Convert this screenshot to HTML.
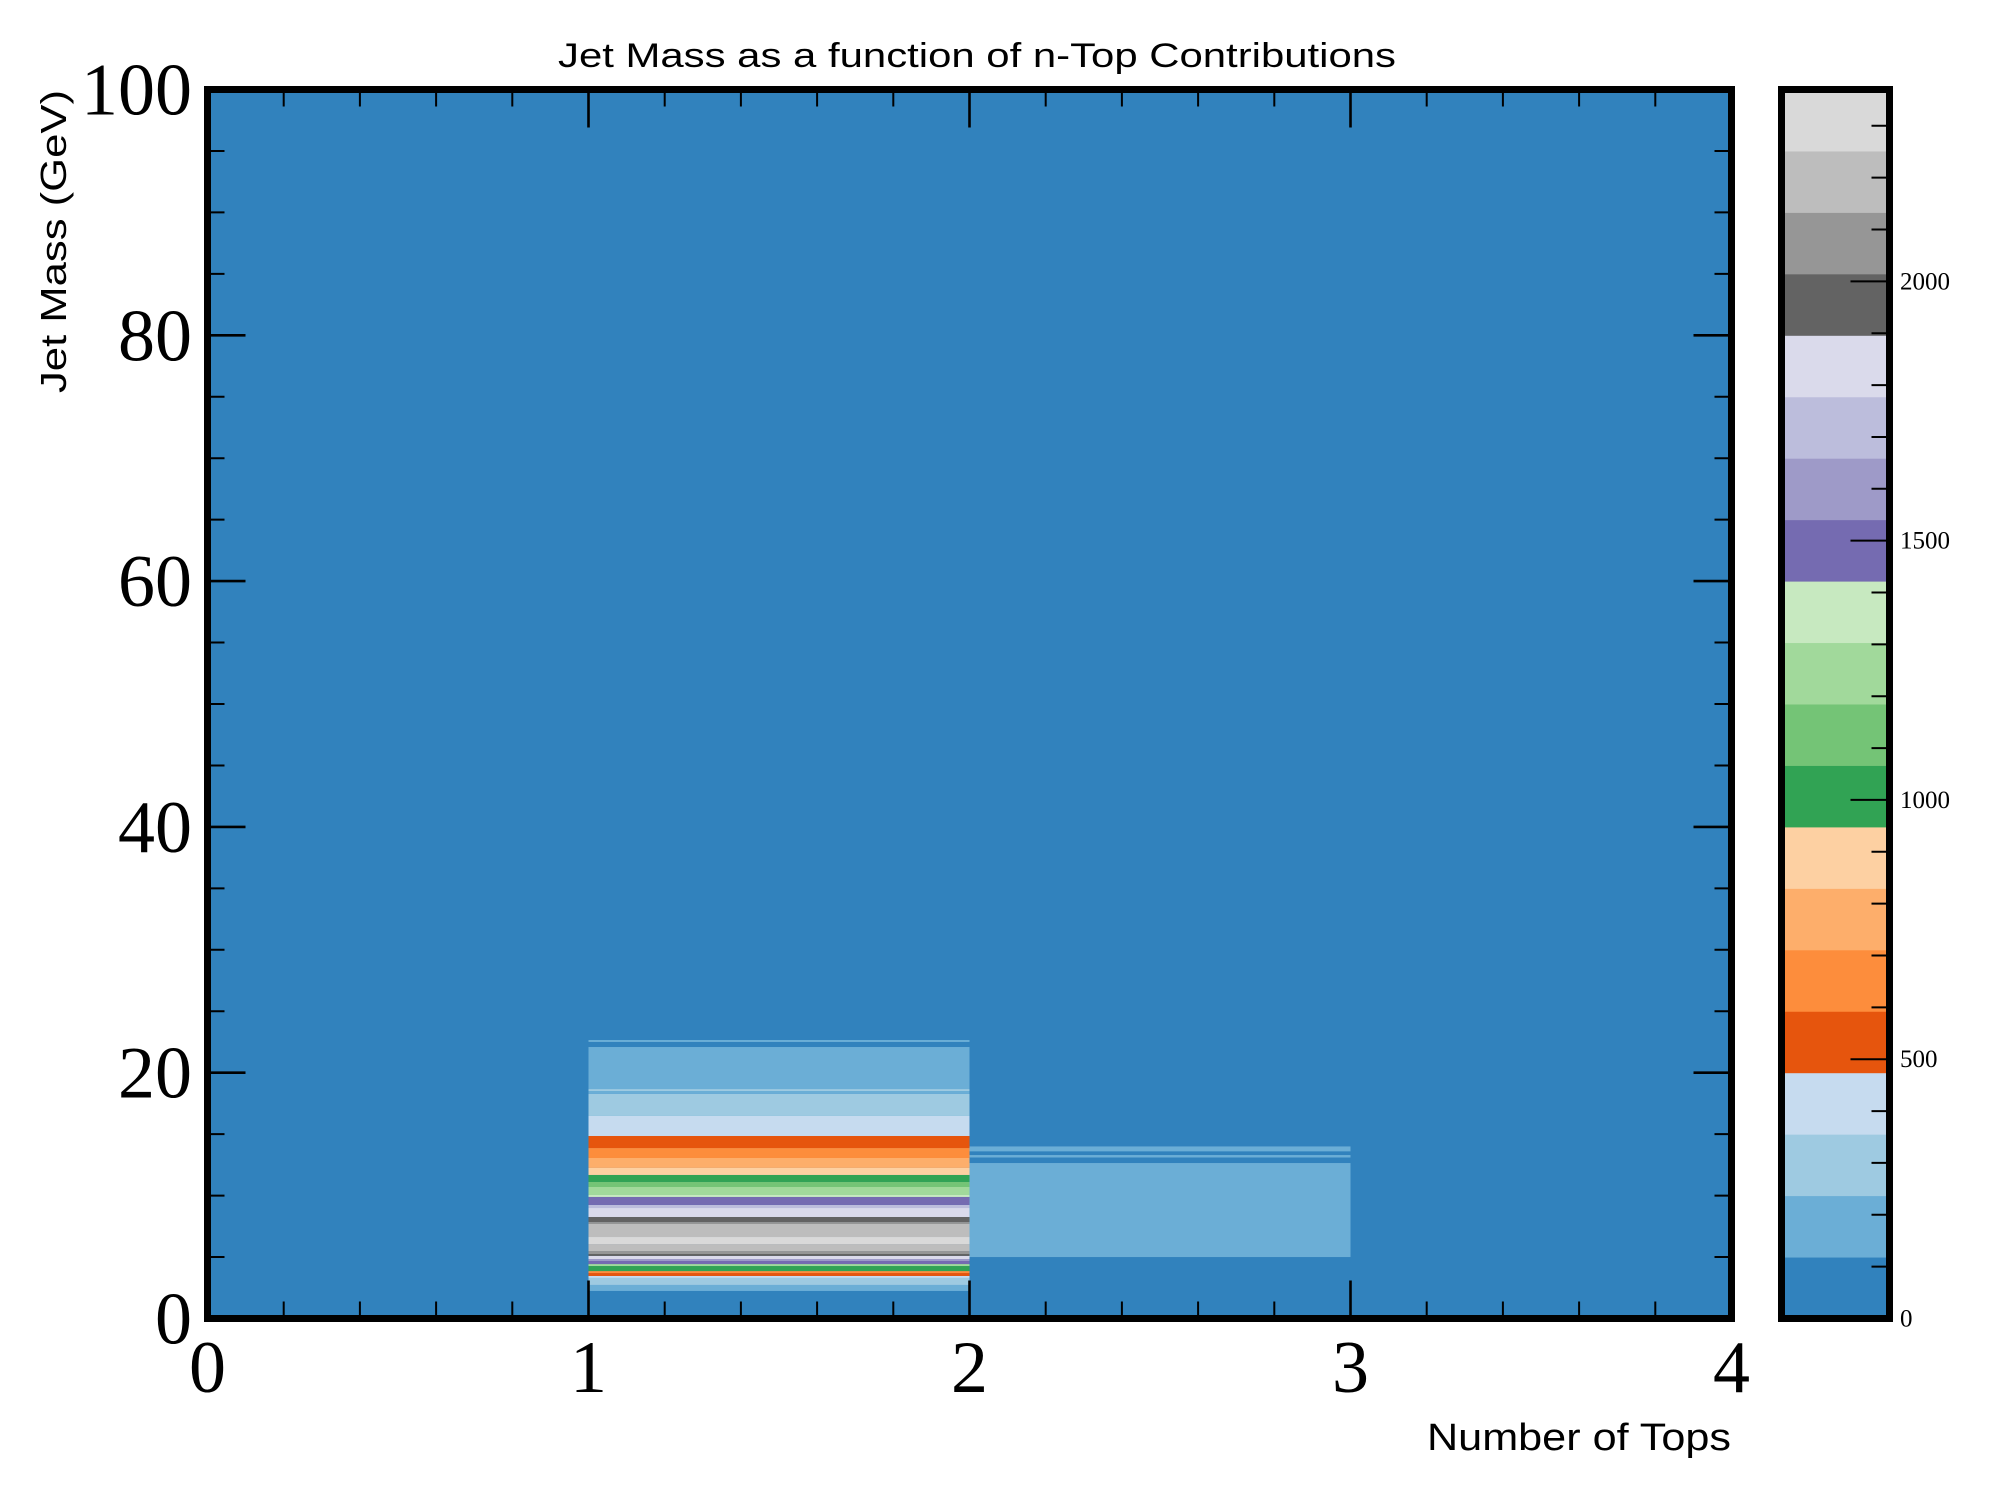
<!DOCTYPE html>
<html><head><meta charset="utf-8"><style>html,body{margin:0;padding:0;background:#fff}svg{display:block}</style></head>
<body>
<svg id="chart" width="2000" height="1500" viewBox="0 0 2000 1500" xmlns="http://www.w3.org/2000/svg">
<rect width="2000" height="1500" fill="#fff"/>
<g id="cells"></g>
<g id="ticks"></g>
<g id="cbar"></g>
<text x="977" y="67" text-anchor="middle" font-family="Liberation Sans, sans-serif" font-size="34" textLength="838" lengthAdjust="spacingAndGlyphs">Jet Mass as a function of n-Top Contributions</text>
<text transform="translate(66,393) rotate(-90)" x="0" y="0" font-family="Liberation Sans, sans-serif" font-size="36" textLength="303" lengthAdjust="spacingAndGlyphs">Jet Mass (GeV)</text>
<text x="1731" y="1450" text-anchor="end" font-family="Liberation Sans, sans-serif" font-size="38" textLength="304" lengthAdjust="spacingAndGlyphs">Number of Tops</text>
</svg>
<script>
const xBinEdges=[0,1,2,3,4];
const col1Low=[2.24,2.73,3.30,3.46,3.70,3.86,4.27,4.43,4.68,4.84,5.09,5.25,5.49,6.06,6.63,7.69,7.85,8.26,8.99,9.24,9.89,10.05,10.70,11.11,11.68,12.25,13.06,13.87,14.85,16.48,18.27,18.51,18.67,22.50];
const col1High=[2.73,3.30,3.46,3.70,3.86,4.27,4.43,4.68,4.84,5.09,5.25,5.49,6.06,6.63,7.69,7.85,8.26,8.99,9.24,9.89,10.05,10.70,11.11,11.68,12.25,13.06,13.87,14.85,16.48,18.27,18.51,18.67,22.09,22.66];
const col1Counts=[180,300,415,530,650,1010,1240,1480,1600,1835,1955,2075,2190,2310,2190,2075,1955,1835,1720,1480,1360,1240,1125,1010,890,770,650,530,415,300,180,300,180,180];
const col2Low=[5.0,13.1,13.6];
const col2High=[12.65,13.3,14.0];
const col2Counts=[180,180,180];
const xTicks=[0,1,2,3,4];
const yTicks=[0,20,40,60,80,100];
const cbTicks=[0,500,1000,1500,2000];
const vmax=2370;
const palette=["#3182bd","#6baed6","#9ecae1","#c6dbef","#e6550d","#fd8d3c","#fdae6b","#fdd0a2","#31a354","#74c476","#a1d99b","#c7e9c0","#756bb1","#9e9ac8","#bcbddc","#dadaeb","#636363","#969696","#bdbdbd","#d9d9d9"];

const NS="http://www.w3.org/2000/svg";
const L=207.5,R=1731.5,T=89.5,B=1318.5;
const xs=v=>L+(v-0)/(4-0)*(R-L);
const ys=v=>B-(v-0)/(100-0)*(B-T);
const CL=1781.5,CR=1889.5;
const cy=v=>B-v/vmax*(B-T);
function color(v){let i=Math.floor(v/(vmax/20));if(i<0)i=0;if(i>19)i=19;return palette[i];}
function mk(tag,attrs,parent){const e=document.createElementNS(NS,tag);for(const k in attrs)e.setAttribute(k,attrs[k]);parent.appendChild(e);return e;}
const cells=document.getElementById('cells');
const bg=mk('rect',{x:L,y:T,width:R-L,height:B-T,fill:color(0)},cells);


function drawCol(x0,x1,lo,hi,cnt,name){
  for(let i=0;i<cnt.length;i++){
    const r=mk('rect',{x:xs(x0),y:ys(hi[i]),width:xs(x1)-xs(x0),height:ys(lo[i])-ys(hi[i]),fill:color(cnt[i])},cells);
    
    
  }
}
drawCol(xBinEdges[1],xBinEdges[2],col1Low,col1High,col1Counts,'one-top');
drawCol(xBinEdges[2],xBinEdges[3],col2Low,col2High,col2Counts,'two-top');

const tk=document.getElementById('ticks');
const serif="Liberation Serif, serif";
function line(x1,y1,x2,y2,w,p){return mk('line',{x1,y1,x2,y2,stroke:'#000','stroke-width':w},p);}
// x minor/major ticks
for(let k=0;k<=20;k++){const v=k*0.2;const x=xs(v);const maj=k%5===0;const len=maj?38:17;
  line(x,B,x,B-len,maj?2.6:2,tk);line(x,T,x,T+len,maj?2.6:2,tk);}
for(let k=0;k<=20;k++){const v=k*5;const y=ys(v);const maj=k%4===0;const len=maj?38:17;
  line(L,y,L+len,y,maj?2.6:2,tk);line(R,y,R-len,y,maj?2.6:2,tk);}
xTicks.forEach(v=>{const t=mk('text',{x:xs(v),y:1392,'text-anchor':'middle','font-family':serif,'font-size':74},tk);t.textContent=v;
  
  });
yTicks.forEach(v=>{const t=mk('text',{x:192,y:ys(v)+25,'text-anchor':'end','font-family':serif,'font-size':74},tk);t.textContent=v;
  
  });
const frame=mk('rect',{x:L,y:T,width:R-L,height:B-T,fill:'none',stroke:'#000','stroke-width':7},tk);



const cb=document.getElementById('cbar');
for(let i=0;i<20;i++){const lo=i*vmax/20,hi=(i+1)*vmax/20;
  const r=mk('rect',{x:CL,y:cy(hi),width:CR-CL,height:cy(lo)-cy(hi)+0.5,fill:palette[i]},cb);
  
  }
for(let v=100;v<vmax;v+=100){const maj=v%500===0;const y=cy(v);line(CR,y,CR-(maj?39:18),y,2,cb);}
cbTicks.forEach(v=>{const t=mk('text',{x:1900,y:cy(v)+8,'font-family':serif,'font-size':25},cb);t.textContent=v;
  
  });
const cf=mk('rect',{x:CL,y:T,width:CR-CL,height:B-T,fill:'none',stroke:'#000','stroke-width':7},cb);


</script>
</body></html>
